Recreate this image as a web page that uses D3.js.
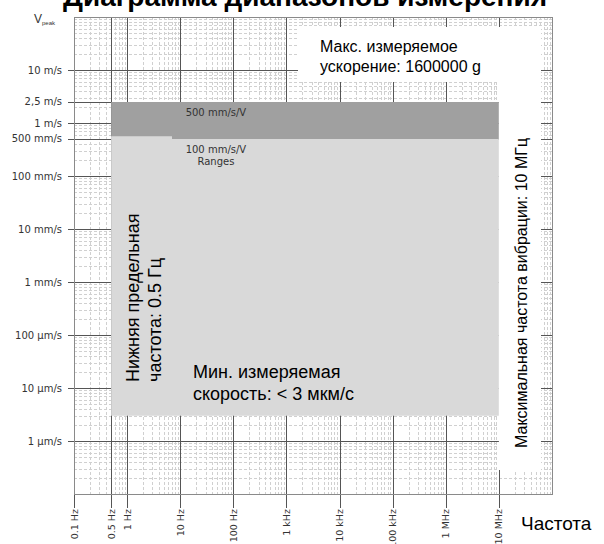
<!DOCTYPE html>
<html><head><meta charset="utf-8">
<script src="https://cdn.jsdelivr.net/npm/d3@7"></script>
<style>body{margin:0;background:#fff;} svg{display:block;}</style>
</head><body>
<script>
// ---- data ----
const freqTicks  = [0.1, 0.5, 1, 10, 100, 1e3, 1e4, 1e5, 1e6, 1e7];
const freqLabels = ["0.1 Hz","0.5 Hz","1 Hz","10 Hz","100 Hz","1 kHz","10 kHz","100 kHz","1 MHz","10 MHz"];
const velTicks   = [10, 2.5, 1, 0.5, 0.1, 0.01, 1e-3, 1e-4, 1e-5, 1e-6];
const velLabels  = ["10 m/s","2,5 m/s","1 m/s","500 mm/s","100 mm/s","10 mm/s","1 mm/s","100 µm/s","10 µm/s","1 µm/s"];
// range polygons: [frequency Hz, velocity m/s]
const range500 = [[0.5, 2.5], [1e7, 2.5], [1e7, 0.5], [0.5, 0.5]];
const range100 = [[0.5, 0.56], [7, 0.56], [7, 0.5], [1e7, 0.5], [1e7, 3e-6], [0.5, 3e-6]];
const rangeLabels = ["500 mm/s/V", "100 mm/s/V", "Ranges"];
const title = "Диаграмма диапазонов измерения";
const noteMaxAcc = ["Макс. измеряемое", "ускорение: 1600000 g"];
const noteMinVel = ["Мин. измеряемая", "скорость: < 3 мкм/с"];
const noteLowF = ["Нижняя предельная", "частота: 0.5 Гц"];
const noteMaxF = "Максимальная частота вибрации: 10 МГц";
const xTitle = "Частота";

// ---- chart ----
const W = 604, H = 544;
const svg = d3.select("body").append("svg").attr("width", W).attr("height", H);
const x = d3.scaleLog().domain([0.1, 1e8]).range([74, 552]);
const y = d3.scaleLog().domain([1e-7, 100]).range([494, 17]);
const X = v => Math.round(x(v)) + 0.5, Y = v => Math.round(y(v)) + 0.5;
const [x0, x1] = x.range(), [y0, y1] = y.range();

// title (cut off at top)
svg.append("text").attr("x", 305).attr("y", 6).attr("text-anchor", "middle")
  .attr("font-family", "Liberation Sans, Arial, sans-serif").attr("font-weight", "bold")
  .attr("font-size", 28).attr("fill", "#000").text(title);

const g = svg.append("g");
// minor grid
const isMajorX = v => freqTicks.some(t => Math.abs(Math.log10(t) - Math.log10(v)) < 1e-6);
const isMajorY = v => velTicks.some(t => Math.abs(Math.log10(t) - Math.log10(v)) < 1e-6);
g.selectAll(".mx").data(x.ticks().filter(v => !isMajorX(v) && v > 0.1 && v < 1e8)).join("line")
  .attr("x1", X).attr("x2", X).attr("y1", y1).attr("y2", y0)
  .attr("stroke", "#d0d0d0").attr("stroke-dasharray", "3,2").attr("stroke-width", 1);
g.selectAll(".my").data(y.ticks().filter(v => !isMajorY(v) && v > 1e-7 && v < 100)).join("line")
  .attr("y1", Y).attr("y2", Y).attr("x1", x0).attr("x2", x1)
  .attr("stroke", "#d0d0d0").attr("stroke-dasharray", "3,2").attr("stroke-width", 1);
// major grid + ticks
g.selectAll(".Mx").data(freqTicks).join("line")
  .attr("x1", X).attr("x2", X).attr("y1", y1).attr("y2", y0 + 14)
  .attr("stroke", "#555").attr("stroke-width", 1);
g.selectAll(".My").data(velTicks).join("line")
  .attr("y1", Y).attr("y2", Y).attr("x1", x0 - 6).attr("x2", x1)
  .attr("stroke", "#555").attr("stroke-width", 1);

// ranges
const poly = d3.line().x(d => x(d[0])).y(d => y(d[1]));
svg.append("path").attr("d", poly(range500) + "Z").attr("fill", "#a0a0a0");
svg.append("path").attr("d", poly(range100) + "Z").attr("fill", "#d9d9d9");

// white note boxes
svg.append("rect").attr("x", 298).attr("y", 27).attr("width", 243).attr("height", 55).attr("fill", "#fff");
svg.append("rect").attr("x", x(1e7)).attr("y", 27).attr("width", 541 - x(1e7)).attr("height", 443).attr("fill", "#fff");

// border
svg.append("rect").attr("x", x0 + 0.5).attr("y", y1 + 0.5).attr("width", x1 - x0).attr("height", y0 - y1)
  .attr("fill", "none").attr("stroke", "#8a8a8a");

// axis labels
const tickFont = "DejaVu Sans, Verdana, sans-serif";
svg.selectAll(".yl").data(velTicks).join("text")
  .attr("x", 62).attr("y", d => y(d)).attr("dy", "0.35em").attr("text-anchor", "end")
  .attr("font-family", tickFont).attr("font-size", 10).attr("fill", "#333")
  .text((d, i) => velLabels[i]);
svg.selectAll(".xl").data(freqTicks).join("text")
  .attr("transform", d => `translate(${x(d) + 3.5},${y0 + 15}) rotate(-90)`)
  .attr("text-anchor", "end")
  .attr("font-family", tickFont).attr("font-size", 9.5).attr("fill", "#333")
  .text((d, i) => freqLabels[i]);
// V peak
const vp = svg.append("text").attr("x", 34).attr("y", 23).attr("font-family", "Liberation Sans, Arial, sans-serif")
  .attr("font-size", 12).attr("fill", "#333");
vp.append("tspan").text("V");
vp.append("tspan").attr("font-size", 6).attr("dy", 2).text("peak");

// range labels
const lab = (t, fx, vy) => svg.append("text").attr("x", x(fx)).attr("y", y(vy)).attr("text-anchor", "middle")
  .attr("dy", "0.35em").attr("font-family", tickFont).attr("font-size", 10).attr("fill", "#333").text(t);
lab(rangeLabels[0], 47, 1.55);
lab(rangeLabels[1], 47, 0.31);
lab(rangeLabels[2], 47, 0.19);

// notes
const sans = "Liberation Sans, Arial, sans-serif";
noteMaxAcc.forEach((t, i) => svg.append("text").attr("x", 320).attr("y", 52 + i * 20)
  .attr("font-family", sans).attr("font-size", 16).attr("fill", "#000").text(t));
noteMinVel.forEach((t, i) => svg.append("text").attr("x", 193).attr("y", 378 + i * 21.5)
  .attr("font-family", sans).attr("font-size", 18).attr("fill", "#000").text(t));
noteLowF.forEach((t, i) => svg.append("text").attr("transform", `translate(139,382) rotate(-90)`)
  .attr("y", i * 22)
  .attr("font-family", sans).attr("font-size", 18).attr("fill", "#000").text(t));
svg.append("text").attr("transform", `translate(527,448) rotate(-90)`)
  .attr("font-family", sans).attr("font-size", 16).attr("fill", "#000").text(noteMaxF);
svg.append("text").attr("x", 521).attr("y", 530)
  .attr("font-family", sans).attr("font-size", 19).attr("fill", "#000").text(xTitle);
</script>
</body></html>
